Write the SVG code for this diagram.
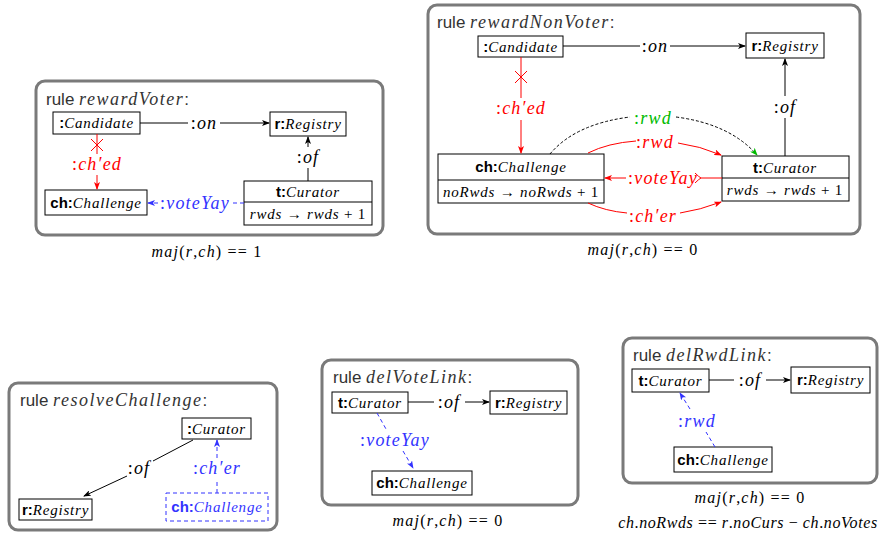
<svg xmlns="http://www.w3.org/2000/svg" width="881" height="535" viewBox="0 0 881 535">
<style>
.frame{fill:#fff;stroke:#7a7a7a;stroke-width:3}
.node{fill:#fff;stroke:#000;stroke-width:1}
.nt{font-family:"Liberation Serif",serif;font-style:italic;font-size:15px;fill:#000;text-anchor:middle;letter-spacing:0.8px}
.b{font-family:"Liberation Sans",sans-serif;font-weight:bold;font-style:normal;letter-spacing:0}
.title{font-family:"Liberation Sans",sans-serif;font-size:17px;fill:#333}
.ti{font-family:"Liberation Serif",serif;font-style:italic;font-size:18px;letter-spacing:1.5px}
.lab{font-family:"Liberation Serif",serif;font-style:italic;font-size:18px;text-anchor:middle;letter-spacing:1.2px}
.up{font-style:normal}
.cap{font-family:"Liberation Serif",serif;font-style:italic;font-size:16px;text-anchor:middle;fill:#000;letter-spacing:1.2px}
.k{stroke:#000;stroke-width:1;fill:none}
.r{stroke:#f00;stroke-width:1;fill:none}
.bl{stroke:#33f;stroke-width:1;fill:none;stroke-dasharray:4 3}
.kd{stroke:#000;stroke-width:1;fill:none;stroke-dasharray:3 2}
</style>
<defs>
<marker id="ak" markerWidth="8" markerHeight="6" refX="7" refY="3" orient="auto" markerUnits="userSpaceOnUse"><path d="M0,0 L8,3 L0,6 L2,3 z" fill="#000"/></marker>
<marker id="ar" markerWidth="8" markerHeight="6" refX="7" refY="3" orient="auto" markerUnits="userSpaceOnUse"><path d="M0,0 L8,3 L0,6 L2,3 z" fill="#f00"/></marker>
<marker id="ab" markerWidth="8" markerHeight="6" refX="7" refY="3" orient="auto" markerUnits="userSpaceOnUse"><path d="M0,0 L8,3 L0,6 L2,3 z" fill="#33f"/></marker>
<marker id="ag" markerWidth="8" markerHeight="6" refX="7" refY="3" orient="auto" markerUnits="userSpaceOnUse"><path d="M0,0 L8,3 L0,6 L2,3 z" fill="#0b0"/></marker>
<marker id="ao" markerWidth="8" markerHeight="10" refX="1" refY="5" orient="auto" markerUnits="userSpaceOnUse"><path d="M7,0 Q3,4 1,5 Q3,6 7,10" fill="none" stroke="#f00" stroke-width="1"/></marker>
</defs>

<!-- Rule 1: rewardVoter -->
<g id="rewardVoter">
<rect class="frame" x="36" y="81" width="347" height="154" rx="9"/>
<text class="title" x="46" y="105">rule <tspan class="ti">rewardVoter</tspan>:</text>
<text class="cap" x="207" y="257">maj<tspan class="up">(</tspan>r<tspan class="up">,</tspan>ch<tspan class="up">) == 1</tspan></text>
</g>
<g id="rv-candidate"><rect class="node" x="53" y="112" width="87" height="22"/><text class="nt" x="96.5" y="128"><tspan class="b">:</tspan>Candidate</text></g>
<g id="rv-registry"><rect class="node" x="270" y="112" width="76" height="24"/><text class="nt" x="308" y="129"><tspan class="b">r:</tspan>Registry</text></g>
<g id="rv-challenge"><rect class="node" x="45" y="190" width="102" height="25"/><text class="nt" x="96" y="208"><tspan class="b">ch:</tspan>Challenge</text></g>
<g id="rv-curator"><rect class="node" x="244" y="181" width="128" height="44"/><line class="k" x1="244" y1="202" x2="372" y2="202"/><text class="nt" x="308" y="197"><tspan class="b">t:</tspan>Curator</text><text class="nt" x="308" y="219">rwds <tspan class="up">→</tspan> rwds <tspan class="up">+ 1</tspan></text></g>

<!-- Rule 2: rewardNonVoter -->
<g id="rewardNonVoter">
<rect class="frame" x="428" y="5" width="432" height="229" rx="9"/>
<text class="title" x="437" y="28">rule <tspan class="ti">rewardNonVoter</tspan>:</text>
<text class="cap" x="643" y="255">maj<tspan class="up">(</tspan>r<tspan class="up">,</tspan>ch<tspan class="up">) == 0</tspan></text>
</g>
<g id="rn-candidate"><rect class="node" x="478" y="36" width="85" height="21"/><text class="nt" x="520.5" y="52"><tspan class="b">:</tspan>Candidate</text></g>
<g id="rn-registry"><rect class="node" x="746" y="33" width="78" height="25"/><text class="nt" x="785" y="51"><tspan class="b">r:</tspan>Registry</text></g>
<g id="rn-challenge"><rect class="node" x="438" y="154" width="166" height="49"/><line class="k" x1="438" y1="180" x2="604" y2="180"/><text class="nt" x="521" y="172"><tspan class="b">ch:</tspan>Challenge</text><text class="nt" x="521" y="197">noRwds <tspan class="up">→</tspan> noRwds <tspan class="up">+ 1</tspan></text></g>
<g id="rn-curator"><rect class="node" x="722" y="156" width="127" height="45"/><line class="k" x1="722" y1="178" x2="849" y2="178"/><text class="nt" x="785" y="173"><tspan class="b">t:</tspan>Curator</text><text class="nt" x="785" y="195">rwds <tspan class="up">→</tspan> rwds <tspan class="up">+ 1</tspan></text></g>

<!-- Rule 3: resolveChallenge -->
<g id="resolveChallenge">
<rect class="frame" x="9" y="383" width="268" height="147" rx="9"/>
<text class="title" x="20" y="406">rule <tspan class="ti">resolveChallenge</tspan>:</text>
</g>
<g id="rc-curator"><rect class="node" x="182" y="418" width="69" height="21"/><text class="nt" x="216.5" y="434"><tspan class="b">:</tspan>Curator</text></g>
<g id="rc-registry"><rect class="node" x="19" y="499" width="73" height="21"/><text class="nt" x="55.5" y="515"><tspan class="b">r:</tspan>Registry</text></g>
<g id="rc-challenge"><rect x="166" y="493" width="102" height="28" fill="#fff" stroke="#33f" stroke-dasharray="4 3"/><text class="nt" x="217" y="512" style="fill:#33f"><tspan class="b">ch:</tspan>Challenge</text></g>

<!-- Rule 4: delVoteLink -->
<g id="delVoteLink">
<rect class="frame" x="322" y="360" width="256" height="145" rx="9"/>
<text class="title" x="333" y="383">rule <tspan class="ti">delVoteLink</tspan>:</text>
<text class="cap" x="448" y="526">maj<tspan class="up">(</tspan>r<tspan class="up">,</tspan>ch<tspan class="up">) == 0</tspan></text>
</g>
<g id="dv-curator"><rect class="node" x="332" y="392" width="76" height="21"/><text class="nt" x="370" y="408"><tspan class="b">t:</tspan>Curator</text></g>
<g id="dv-registry"><rect class="node" x="490" y="391" width="77" height="23"/><text class="nt" x="528.5" y="408"><tspan class="b">r:</tspan>Registry</text></g>
<g id="dv-challenge"><rect class="node" x="372" y="471" width="100" height="24"/><text class="nt" x="422" y="488"><tspan class="b">ch:</tspan>Challenge</text></g>

<!-- Rule 5: delRwdLink -->
<g id="delRwdLink">
<rect class="frame" x="623" y="338" width="254" height="145" rx="9"/>
<text class="title" x="633" y="361">rule <tspan class="ti">delRwdLink</tspan>:</text>
<text class="cap" x="750" y="503">maj<tspan class="up">(</tspan>r<tspan class="up">,</tspan>ch<tspan class="up">) == 0</tspan></text>
<text class="cap" x="748" y="528" style="letter-spacing:0.6px">ch<tspan class="up">.</tspan>noRwds <tspan class="up">==</tspan> r<tspan class="up">.</tspan>noCurs <tspan class="up">−</tspan> ch<tspan class="up">.</tspan>noVotes</text>
</g>
<g id="dr-curator"><rect class="node" x="632" y="369" width="77" height="23"/><text class="nt" x="670.5" y="386"><tspan class="b">t:</tspan>Curator</text></g>
<g id="dr-registry"><rect class="node" x="791" y="367" width="79" height="26"/><text class="nt" x="830.5" y="385"><tspan class="b">r:</tspan>Registry</text></g>
<g id="dr-challenge"><rect class="node" x="674" y="447" width="98" height="25"/><text class="nt" x="723" y="465"><tspan class="b">ch:</tspan>Challenge</text></g>

<!-- Connectors -->
<g id="connectors">
<!-- rewardVoter -->
<line class="k" x1="140" y1="123" x2="188" y2="123"/>
<line class="k" x1="220" y1="123" x2="269" y2="123" marker-end="url(#ak)"/>
<text class="lab" x="204" y="129"><tspan class="up">:</tspan>on</text>
<line class="k" x1="308" y1="181" x2="308" y2="168"/>
<line class="k" x1="308" y1="147" x2="308" y2="137" marker-end="url(#ak)"/>
<text class="lab" x="308" y="163"><tspan class="up">:</tspan>of</text>
<line class="r" x1="97" y1="134" x2="97" y2="154"/>
<path class="r" d="M91,139 L103,151 M103,139 L91,151"/>
<line class="r" x1="97" y1="175" x2="97" y2="189" marker-end="url(#ar)"/>
<text class="lab" x="97" y="170" fill="#f00"><tspan class="up">:</tspan>ch′ed</text>
<line class="bl" x1="244" y1="203" x2="232" y2="203"/>
<line class="bl" x1="158" y1="203" x2="148" y2="203" marker-end="url(#ab)"/>
<text class="lab" x="195" y="209" fill="#33f"><tspan class="up">:</tspan>voteYay</text>

<!-- rewardNonVoter -->
<line class="k" x1="563" y1="46" x2="640" y2="46"/>
<line class="k" x1="670" y1="46" x2="745" y2="46" marker-end="url(#ak)"/>
<text class="lab" x="655" y="52"><tspan class="up">:</tspan>on</text>
<line class="k" x1="785" y1="156" x2="785" y2="118"/>
<line class="k" x1="785" y1="96" x2="785" y2="59" marker-end="url(#ak)"/>
<text class="lab" x="785" y="113"><tspan class="up">:</tspan>of</text>
<line class="r" x1="521" y1="57" x2="521" y2="98"/>
<path class="r" d="M515,71 L527,83 M527,71 L515,83"/>
<line class="r" x1="521" y1="120" x2="521" y2="153" marker-end="url(#ar)"/>
<text class="lab" x="521" y="114" fill="#f00"><tspan class="up">:</tspan>ch′ed</text>
<path class="kd" d="M550,154 Q575,124 630,117"/>
<path class="kd" d="M676,117 Q730,124 757,155" marker-end="url(#ag)"/>
<text class="lab" x="653" y="124" fill="#0b0"><tspan class="up">:</tspan>rwd</text>
<path class="r" d="M588,153 Q608,143 636,141"/>
<path class="r" d="M678,143 Q700,146 721,155" marker-end="url(#ar)"/>
<text class="lab" x="655" y="148" fill="#f00"><tspan class="up">:</tspan>rwd</text>
<line class="r" x1="722" y1="178" x2="701" y2="178" marker-end="url(#ao)"/>
<line class="r" x1="626" y1="178" x2="605" y2="178" marker-end="url(#ar)"/>
<text class="lab" x="663" y="184" fill="#f00"><tspan class="up">:</tspan>voteYay</text>
<path class="r" d="M588,203 Q605,211 627,213"/>
<path class="r" d="M680,213 Q700,210 721,202" marker-end="url(#ar)"/>
<text class="lab" x="653" y="222" fill="#f00"><tspan class="up">:</tspan>ch′er</text>

<!-- resolveChallenge -->
<line class="k" x1="193" y1="440" x2="153" y2="461"/>
<line class="k" x1="127" y1="476" x2="84" y2="496" marker-end="url(#ak)"/>
<text class="lab" x="139" y="474"><tspan class="up">:</tspan>of</text>
<line class="bl" x1="217" y1="493" x2="217" y2="480"/>
<line class="bl" x1="217" y1="458" x2="217" y2="440" marker-end="url(#ab)"/>
<text class="lab" x="217" y="474" fill="#33f"><tspan class="up">:</tspan>ch′er</text>

<!-- delVoteLink -->
<line class="k" x1="408" y1="402" x2="434" y2="402"/>
<line class="k" x1="465" y1="402" x2="489" y2="402" marker-end="url(#ak)"/>
<text class="lab" x="449" y="408"><tspan class="up">:</tspan>of</text>
<line class="bl" x1="377" y1="413" x2="386" y2="429"/>
<line class="bl" x1="403" y1="451" x2="413" y2="468" marker-end="url(#ab)"/>
<text class="lab" x="395" y="446" fill="#33f"><tspan class="up">:</tspan>voteYay</text>

<!-- delRwdLink -->
<line class="k" x1="709" y1="380" x2="734" y2="380"/>
<line class="k" x1="766" y1="380" x2="790" y2="380" marker-end="url(#ak)"/>
<text class="lab" x="750" y="386"><tspan class="up">:</tspan>of</text>
<line class="bl" x1="715" y1="447" x2="706" y2="432"/>
<line class="bl" x1="690" y1="409" x2="680" y2="393" marker-end="url(#ab)"/>
<text class="lab" x="697" y="427" fill="#33f"><tspan class="up">:</tspan>rwd</text>
</g>
</svg>
